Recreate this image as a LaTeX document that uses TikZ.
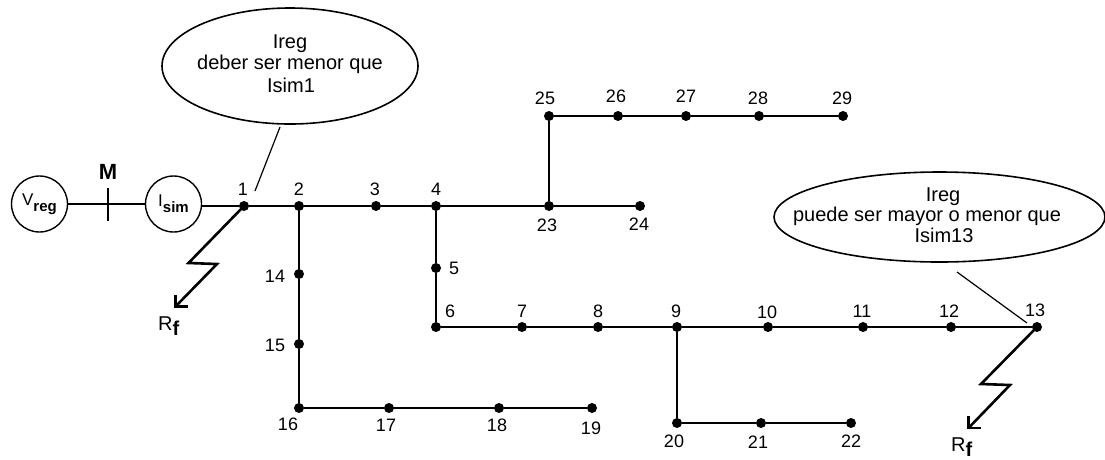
\documentclass[tikz,border=0pt]{standalone}
\usepackage{fontspec}
\setmainfont{Liberation Sans}
\usetikzlibrary{calc,shapes.geometric}
\tikzset{
  bus/.style={circle,fill=black,inner sep=0pt,minimum size=10pt},
  wire/.style={line width=1.8pt},
  thin lead/.style={line width=1.2pt},
  fault/.style={line width=2.6pt,miter limit=10},
  lab/.style={inner sep=0pt,font=\fontsize{18}{20}\selectfont},
  src/.style={circle,draw,line width=1.4pt,minimum size=56pt,inner sep=0pt,fill=white,font=\fontsize{17}{18}\selectfont},
  balloon/.style={draw,ellipse,line width=1.6pt,inner sep=0pt},
  btext/.style={inner sep=0pt,font=\fontsize{20}{22}\selectfont}
}
\newcommand{\fsub}[2]{#1\raisebox{-6pt}{\fontsize{15}{16}\selectfont\bfseries #2}}
\newcommand{\rfsub}{{\fontsize{20}{22}\selectfont R\raisebox{-5pt}{\bfseries f}}}
\begin{document}
\begin{tikzpicture}[x=1pt,y=-1pt]
\useasboundingbox (0,0) rectangle (1105,459);
% buses
\foreach \n/\x/\y in {1/244/206,2/299/206,3/376/206,4/436/206,5/436/268,6/436/327,7/522/327,8/598/327,9/677/327,10/768/327,11/863/327,12/951/327,13/1037/327,14/299/274,15/299/344,16/299/408,17/389/408,18/499/408,19/592/408,20/677/423,21/761/423,22/851/423,23/549/206,24/640/206,25/549/116,26/618/116,27/686/116,28/759/116,29/843/116}
  \node[bus] (b\n) at (\x,\y) {};
% sources
\node[src] (vreg) at (39.5,204) {\fsub{V}{reg}};
\node[src] (isim) at (173.5,204) {\fsub{I}{sim}};
% wiring
\draw[wire] (vreg) -- (isim);
\draw[wire] (isim.east |- b1) -- (b1) -- (b2) -- (b3) -- (b4) -- (b23) -- (b24);
\draw[wire] (b4) -- (b5) -- (b6) -- (b7) -- (b8) -- (b9) -- (b10) -- (b11) -- (b12) -- (b13);
\draw[wire] (b2) -- (b14) -- (b15) -- (b16) -- (b17) -- (b18) -- (b19);
\draw[wire] (b9) -- (b20) -- (b21) -- (b22);
\draw[wire] (b23) -- (b25) -- (b26) -- (b27) -- (b28) -- (b29);
% meter
\coordinate (mt) at (108,188); \coordinate (mb) at (108,221);
\draw[wire] (mt) -- (mb);
\node[inner sep=0pt,font=\fontsize{22}{24}\selectfont\bfseries] (mlab) at (108,172) {M};
% faults
\coordinate (f1a) at (188.5,263); \coordinate (f1b) at (217,264); \coordinate (f1c) at (175.5,306.5);
\coordinate (f1d) at (175.5,295); \coordinate (f1e) at (187.5,306.5);
\draw[fault] (b1.center) -- (f1a) -- (f1b) -- (f1c);
\draw[fault] (f1d) -- (f1c) -- (f1e);
\coordinate (f2a) at (981,384); \coordinate (f2b) at (1010,385); \coordinate (f2c) at (968.5,428);
\coordinate (f2d) at (968.5,416); \coordinate (f2e) at (980.5,428);
\draw[fault] (b13.center) -- (f2a) -- (f2b) -- (f2c);
\draw[fault] (f2d) -- (f2c) -- (f2e);
\node[lab,anchor=west] (rf1) at (158,326) {\rfsub};
\node[lab,anchor=west] (rf2) at (951,447) {\rfsub};
% balloons
\node[balloon,minimum width=256pt,minimum height=116pt] (e1) at (290,66) {};
\node[btext] (t1a) at (290,44) {Ireg};
\node[btext] (t1b) at (290,64) {deber ser menor que};
\node[btext] (t1c) at (291,85) {Isim1};
\node[balloon,minimum width=331pt,minimum height=90pt] (e2) at (939.5,217) {};
\node[btext] (t2a) at (943,197) {Ireg};
\node[btext] (t2b) at (927,216) {puede ser mayor o menor que};
\node[btext] (t2c) at (944,235) {Isim13};
\coordinate (l1a) at (280,127); \coordinate (l1b) at (255,191);
\draw[thin lead] (l1a) -- (l1b);
\coordinate (l2a) at (957,272); \coordinate (l2b) at (1027,323);
\draw[thin lead] (l2a) -- (l2b);
% bus labels
\foreach \t/\x/\y in {1/243/189,2/299/189,3/375/189,4/436/189,5/454/268,6/450/311,7/522/311,8/598/311,9/676/311,10/767/312,11/862/311,12/949/311,13/1035/310,14/275/276,15/275/345,16/288/424,17/386/425,18/497/425,19/591/428,20/674/441,21/758/442,22/851/441,23/547/225,24/639/224,25/545/98,26/616/96,27/686/96,28/758/98,29/842/98}
  \node[lab] (l\t) at (\x,\y) {\t};
\end{tikzpicture}
\end{document}
